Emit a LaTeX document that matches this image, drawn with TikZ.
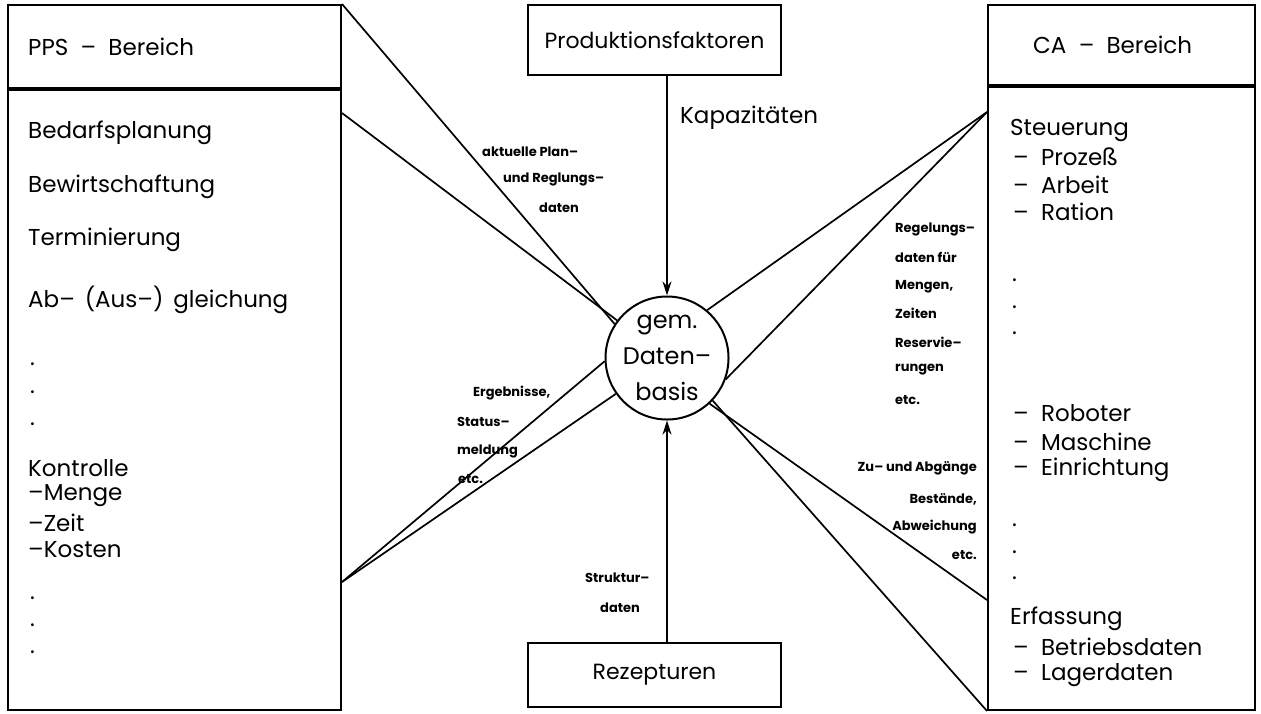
\documentclass[tikz,border=0pt]{standalone}
\usepackage{fontspec}
\setmainfont{Poppins}
\usetikzlibrary{positioning,arrows.meta}

\begin{document}
\begin{tikzpicture}[x=1pt, y=-1pt,
    box/.style={draw=black, line width=2pt, inner sep=0pt},
    entry/.style={anchor=west, inner sep=0pt, font=\fontsize{23}{27}\selectfont},
    note/.style={anchor=west, inner sep=0pt, font=\bfseries\fontsize{13}{15}\selectfont},
    link/.style={draw=black, line width=1.7pt},
    flow/.style={link, -{Stealth[length=14pt, width=9pt]}}
    ]
        \useasboundingbox (0,0) rectangle (1261,713);

        %Boxes
        \node[box, minimum width=333pt, minimum height=83pt]
            (ppshead) at (174.5,46.5) {};
        \node[box, minimum width=333pt, minimum height=620pt, anchor=north]
            (ppsbody) at (ppshead.south) {};
        \node[box, minimum width=267pt, minimum height=80pt]
            (cahead) at (1121.5,45) {};
        \node[box, minimum width=267pt, minimum height=623pt, anchor=north]
            (cabody) at (cahead.south) {};
        \node[box, minimum width=253pt, minimum height=70pt, font=\fontsize{22}{26}\selectfont]
            (prod) at (654.5,40) {Produktionsfaktoren};
        \node[box, minimum width=253pt, minimum height=64pt, font=\fontsize{22}{26}\selectfont]
            (rez) at (654.5,675) {Rezepturen};
        \node[circle, draw=black, line width=2pt, minimum size=118pt, inner sep=0pt,
              align=center, font=\fontsize{24}{36}\selectfont]
            (db) at (667,358) {gem.\\Daten--\\basis};

        %PPS entries
        \node[entry] (ppstitle) at (28,47)  {PPS \ -- \ Bereich};
        \node[entry] (bedarf)   at (28,133) {Bedarfsplanung};
        \node[entry] (bewirt)   at (28,187) {Bewirtschaftung};
        \node[entry] (termin)   at (28,240) {Terminierung};
        \node[entry] (abgl)     at (28,300) {Ab-- \,(Aus--) \,gleichung};
        \foreach \y [count=\i] in {364,392,424,598,625,652}
            \node[entry] (ppsdot\i) at (30,\y) {.};
        \node[entry] (kontr)    at (28,468) {Kontrolle};
        \node[entry] (menge)    at (28,496) {--Menge};
        \node[entry] (zeit)     at (28,523) {--Zeit};
        \node[entry] (kosten)   at (28,550) {--Kosten};

        %CA entries
        \node[entry] (catitle)  at (1033,45)  {CA \ -- \ Bereich};
        \node[entry] (steuer)   at (1010,130) {Steuerung};
        \node[entry] (prozess)  at (1013,157) {-- \ Prozeß};
        \node[entry] (arbeit)   at (1013,185) {-- \ Arbeit};
        \node[entry] (ration)   at (1013,212) {-- \ Ration};
        \foreach \y [count=\i] in {280,307,333,525,552,578}
            \node[entry] (cadot\i) at (1012,\y) {.};
        \node[entry] (roboter)  at (1013,413) {-- \ Roboter};
        \node[entry] (maschine) at (1013,442) {-- \ Maschine};
        \node[entry] (einricht) at (1013,470) {-- \ Einrichtung};
        \node[entry] (erfass)   at (1010,619) {Erfassung};
        \node[entry] (betrieb)  at (1013,647) {-- \ Betriebsdaten};
        \node[entry] (lager)    at (1013,675) {-- \ Lagerdaten};

        %Labels
        \node[entry] (kapaz) at (680,118) {Kapazitäten};
        \node[note] (plan1) at (482,152) {aktuelle Plan--};
        \node[note] (plan2) at (503,179) {und Reglungs--};
        \node[note] (plan3) at (539,208) {daten};
        \foreach \t/\y [count=\i] in {Regelungs--/229, daten für/257, {Mengen,}/287,
                Zeiten/313, Reservie--/342, rungen/370, etc./400}
            \node[note] (regel\i) at (895,\y) {\t};
        \node[note] (erg1) at (473,393) {Ergebnisse,};
        \node[note] (erg2) at (457,422) {Status--};
        \node[note] (erg3) at (457,451) {meldung};
        \node[note] (erg4) at (458,479) {etc.};
        \node[note, anchor=east] (zu1) at (977,468) {Zu-- und Abgänge};
        \node[note, anchor=east] (zu2) at (977,499) {Bestände,};
        \node[note, anchor=east] (zu3) at (977,527) {Abweichung};
        \node[note, anchor=east] (zu4) at (977,555) {etc.};
        \node[note] (strukt1) at (585,578) {Struktur--};
        \node[note] (strukt2) at (600,608) {daten};

        %Lines
        \coordinate (ppsup)  at (ppsbody.north east |- 0,113);
        \coordinate (ppslow) at (ppsbody.north east |- 0,582);
        \coordinate (caup)   at (cabody.north west |- 0,112);
        \coordinate (calow)  at (cabody.north west |- 0,600);
        \draw[link] (ppshead.north east) -- (db.147);
        \draw[link] (ppsup) -- (db.143);
        \draw[link] (ppslow) -- (db.183);
        \draw[link] (ppslow) -- (db.215);
        \draw[link] (caup) -- (db.50);
        \draw[link] (caup) -- (db.340);
        \draw[link] (db.313) -- (calow);
        \draw[link] (db.317) -- (cabody.south west);
        \draw[flow] (db |- prod.south) -- (db.north);
        \draw[flow] (db |- rez.north) -- (db.south);
    \end{tikzpicture}
\end{document}
